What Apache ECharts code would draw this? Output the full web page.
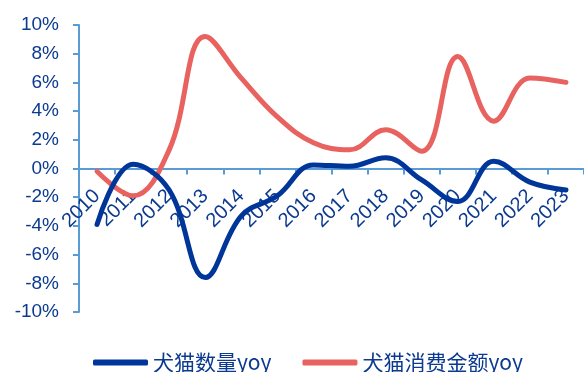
<!DOCTYPE html>
<html>
<head>
<meta charset="utf-8">
<script src="https://cdn.jsdelivr.net/npm/echarts@6/dist/echarts.min.js"></script>
<style>
  html, body { margin: 0; padding: 0; background: #fff; }
  #chart { width: 584px; height: 372px; }
</style>
</head>
<body>
<div id="chart"></div>
<script>
// 年份
var years = ['2010', '2011', '2012', '2013', '2014', '2015', '2016',
             '2017', '2018', '2019', '2020', '2021', '2022', '2023'];
// 犬猫数量yoy (%)
var countYoy = [-3.9, 0.3, -1.5, -7.6, -3.3, -1.9, 0.25, 0.15, 0.75, -0.8, -2.3, 0.5, -0.95, -1.5];
// 犬猫消费金额yoy (%)
var spendYoy = [-0.2, -1.9, 1.3, 9.2, 6.3, 3.6, 1.8, 1.3, 2.7, 1.2, 7.8, 3.3, 6.3, 6.0];
var seriesNames = ['犬猫数量yoy', '犬猫消费金额yoy'];

var textColor = '#0b3a8f';
var axisColor = '#5b9bd5';

var myChart = echarts.init(document.getElementById('chart'));
myChart.setOption({
    animation: false,
    textStyle: { fontFamily: 'Liberation Sans, Arial, sans-serif' },
    grid: {
        left: 79,
        top: 25,
        width: 510,
        height: 287
    },
    legend: {
        top: 352,
        left: 93,
        padding: 0,
        itemGap: 31,
        itemWidth: 55,
        itemHeight: 6,
        icon: 'roundRect',
        textStyle: {
            color: textColor,
            fontSize: 21,
            fontFamily: 'Noto Sans CJK SC, sans-serif'
        },
        data: seriesNames
    },
    xAxis: [{
        type: 'category',
        data: years,
        z: 0,
        axisLine: { onZero: true, lineStyle: { color: axisColor, width: 2 } },
        axisTick: { show: true, length: 6, lineStyle: { color: axisColor, width: 2 } },
        axisLabel: {
            rotate: 45,
            color: textColor,
            fontSize: 20,
            margin: -119,
            interval: 0
        }
    }],
    yAxis: [{
        type: 'value',
        min: -10,
        max: 10,
        interval: 2,
        splitLine: { show: false },
        axisLine: { show: true, lineStyle: { color: axisColor, width: 2 } },
        axisTick: { show: true, length: 6, lineStyle: { color: axisColor, width: 2 } },
        axisLabel: {
            color: textColor,
            fontSize: 19,
            margin: 20,
            formatter: '{value}%'
        }
    }],
    series: [{
        name: seriesNames[0],
        type: 'line',
        smooth: 0.4,
        symbol: 'none',
        data: countYoy,
        z: 3,
        itemStyle: { color: '#00359a' },
        lineStyle: { color: '#00359a', width: 5, cap: 'round' }
    }, {
        name: seriesNames[1],
        type: 'line',
        smooth: 0.4,
        symbol: 'none',
        data: spendYoy,
        z: 2,
        itemStyle: { color: '#e8625f' },
        lineStyle: { color: '#e8625f', width: 5, cap: 'round' }
    }]
});
</script>
</body>
</html>
